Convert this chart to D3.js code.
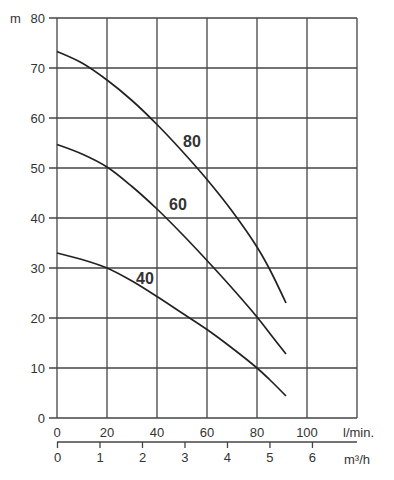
<!DOCTYPE html>
<html>
<head>
<meta charset="utf-8">
<script src="https://cdn.jsdelivr.net/npm/d3@7"></script>
<style>
  body { margin: 0; background: #fff; }
  svg text { font-family: "Liberation Sans", Arial, sans-serif; fill: #333; }
  .curve { fill: none; stroke: #222; stroke-width: 1.7; }
  .grid line { stroke: #444; stroke-width: 1.3; }
</style>
</head>
<body>
<svg width="394" height="480"></svg>
<script>
// flow in l/min
var flow = [0, 10, 20, 30, 40, 50, 60, 70, 80, 85, 91.6];
// head in m per curve
var head80 = [73.3, 71, 67.6, 63.5, 58.7, 53.4, 47.7, 41.4, 34.2, 29.8, 23];
var head60 = [54.7, 52.8, 50.2, 46.3, 41.8, 36.8, 31.5, 26, 20.2, 17.0, 12.8];
var head40 = [33, 31.7, 30, 27.4, 24.3, 21, 17.7, 14, 10, 7.7, 4.4];
var curveNames = ["80", "60", "40"];
// label positions (l/min, m)
var labelFlow = [54, 48.4, 35.2];
var labelHead = [54.2, 41.6, 26.8];

var yTicks = [0, 10, 20, 30, 40, 50, 60, 70, 80];
var xTicks = [0, 20, 40, 60, 80, 100];
var m3Ticks = [0, 1, 2, 3, 4, 5, 6];

var svg = d3.select("svg");

var x = d3.scaleLinear().domain([0, 120]).range([57, 357]);
var y = d3.scaleLinear().domain([0, 80]).range([418, 18]);
var xm3 = d3.scaleLinear().domain([0, 7.06]).range([57, 357]);

// grid
var grid = svg.append("g").attr("class", "grid");
grid.selectAll(".h").data(yTicks).enter().append("line")
  .attr("x1", 49).attr("x2", x(120))
  .attr("y1", d => y(d)).attr("y2", d => y(d));
grid.selectAll(".v").data([0, 20, 40, 60, 80, 100, 120]).enter().append("line")
  .attr("x1", d => x(d)).attr("x2", d => x(d))
  .attr("y1", y(80)).attr("y2", y(0));

// y labels
svg.selectAll(".ylab").data(yTicks).enter().append("text")
  .attr("x", 45).attr("y", d => y(d) + 5)
  .attr("text-anchor", "end").attr("font-size", 13)
  .text(d => d);
svg.append("text").attr("x", 10).attr("y", 23).attr("font-size", 13).text("m");

// l/min labels
svg.selectAll(".xlab").data(xTicks).enter().append("text")
  .attr("x", d => x(d)).attr("y", 437)
  .attr("text-anchor", "middle").attr("font-size", 13)
  .text(d => d);
svg.append("text").attr("x", 343).attr("y", 437).attr("font-size", 13).text("l/min.");

// m3/h axis
var m3Axis = d3.axisBottom(xm3).tickValues(m3Ticks).tickFormat(d3.format("d"))
  .tickSize(6).tickSizeOuter(0).tickPadding(5);
var g2 = svg.append("g").attr("transform", "translate(0,442)").call(m3Axis);
g2.select(".domain").attr("d", "M57,0H357").attr("stroke", "#444").attr("stroke-width", 1.3);
g2.selectAll(".tick line").attr("stroke", "#444").attr("stroke-width", 1.3);
g2.selectAll(".tick text").attr("font-size", 13).attr("fill", "#333")
  .attr("font-family", "Liberation Sans, Arial, sans-serif");
svg.append("text").attr("x", 344).attr("y", 464).attr("font-size", 13).text("m³/h");

// curves
var line = d3.line().x(d => x(d[0])).y(d => y(d[1])).curve(d3.curveCatmullRom.alpha(0.5));
[head80, head60, head40].forEach(function(h, i) {
  svg.append("path").attr("class", "curve")
    .attr("d", line(flow.map((f, j) => [f, h[j]])));
  svg.append("text")
    .attr("x", x(labelFlow[i])).attr("y", y(labelHead[i]))
    .attr("text-anchor", "middle").attr("font-size", 16).attr("font-weight", "bold")
    .text(curveNames[i]);
});
</script>
</body>
</html>
